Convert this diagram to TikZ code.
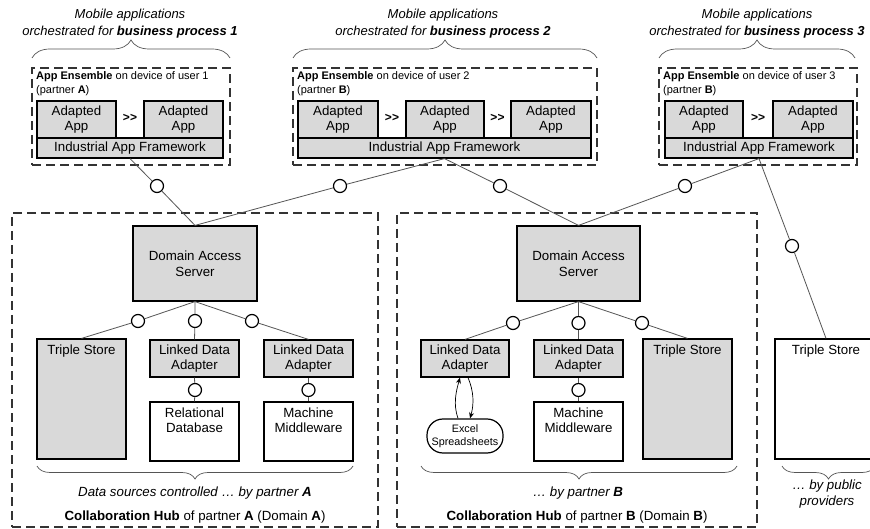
\documentclass[tikz,border=0pt]{standalone}
\usepackage{fontspec}
\setmainfont{Liberation Sans}
\usetikzlibrary{decorations.pathreplacing,arrows.meta}
\definecolor{boxgray}{HTML}{D9D9D9}
\definecolor{dashgray}{HTML}{333333}
\definecolor{linegray}{HTML}{555555}
\newcommand{\myfontL}{\fontsize{13.3}{15.5}\selectfont}
\newcommand{\myfontS}{\fontsize{11}{14}\selectfont}
\newcommand{\mkbox}[7]{\node[#1, minimum width={(#5)-(#3)}, minimum height={(#6)-(#4)}] (#2) at ({((#3)+(#5))/2},{((#4)+(#6))/2}) {#7};}
\begin{document}
\begin{tikzpicture}[x=1pt,y=-1pt,
  gbox/.style={draw=black, line width=1.2pt, fill=boxgray, inner sep=0pt, align=center, font=\myfontL},
  wbox/.style={gbox, fill=white},
  dbox/.style={draw=dashgray, line width=1.7pt, dash pattern=on 9pt off 5pt, inner sep=0pt},
  ball/.style={circle, draw=black, fill=white, line width=1.2pt, minimum size=13pt, inner sep=0pt},
  conn/.style={draw=linegray, line width=0.8pt},
  brc/.style={draw=linegray, line width=0.7pt, decorate, decoration={brace, amplitude=#1}},
  txt/.style={inner sep=0pt, align=center, font=\myfontL},
  ens/.style={anchor=north west, inner sep=0pt, align=left, font=\myfontS},
  gt/.style={inner sep=0pt, font=\bfseries\fontsize{12}{14}\selectfont},
  arr/.style={draw=black, line width=0.7pt, -{Stealth[length=6pt,width=5pt]}},
]
\useasboundingbox (0,0) rectangle (870,529);
\fill[white] (0,0) rectangle (870,529);

% ---------- titles and top braces ----------
\node[txt, font=\itshape\fontsize{13}{16.5}\selectfont] (t1) at (130,23.5) {Mobile applications\\orchestrated for \textbf{business process 1}};
\node[txt, font=\itshape\fontsize{13}{16.5}\selectfont] (t2) at (443,23.5) {Mobile applications\\orchestrated for \textbf{business process 2}};
\node[txt, font=\itshape\fontsize{13}{16.5}\selectfont] (t3) at (757,23.5) {Mobile applications\\orchestrated for \textbf{business process 3}};
\draw[brc=18pt] (32,58) -- (230,58);
\draw[brc=18pt] (293,58) -- (597,58);
\draw[brc=18pt] (659,58) -- (855,58);

% ---------- app ensembles ----------
\mkbox{dbox}{e1}{32}{68}{230}{165}{}
\mkbox{dbox}{e2}{293}{68}{597}{165}{}
\mkbox{dbox}{e3}{659}{68}{857}{165}{}
\node[ens] (l1) at (36,71) {\textbf{App Ensemble} on device of user 1\\(partner \textbf{A})};
\node[ens] (l2) at (297,71) {\textbf{App Ensemble} on device of user 2\\(partner \textbf{B})};
\node[ens] (l3) at (663,71) {\textbf{App Ensemble} on device of user 3\\(partner \textbf{B})};

\mkbox{gbox}{a1a}{37}{101}{116}{138}{Adapted\\App}
\mkbox{gbox}{a1b}{144}{101}{223}{138}{Adapted\\App}
\mkbox{gbox}{f1}{37}{138}{223}{158}{Industrial App Framework}
\node[gt] (g1) at (130,118) {>{}>};

\mkbox{gbox}{a2a}{298}{101}{378}{138}{Adapted\\App}
\mkbox{gbox}{a2b}{406}{101}{484}{138}{Adapted\\App}
\mkbox{gbox}{a2c}{511}{101}{591}{138}{Adapted\\App}
\mkbox{gbox}{f2}{298}{138}{591}{158}{Industrial App Framework}
\node[gt] (g2) at (392,118) {>{}>};
\node[gt] (g3) at (497.5,118) {>{}>};

\mkbox{gbox}{a3a}{665}{101}{743}{138}{Adapted\\App}
\mkbox{gbox}{a3b}{773}{101}{853}{138}{Adapted\\App}
\mkbox{gbox}{f3}{665}{138}{853}{158}{Industrial App Framework}
\node[gt] (g4) at (758,118) {>{}>};

% ---------- collaboration hubs ----------
\mkbox{dbox}{hA}{12}{213}{378}{527}{}
\mkbox{dbox}{hB}{397}{213}{757}{527}{}

\mkbox{gbox}{dasA}{133}{226}{257}{301}{Domain Access\\Server}
\mkbox{gbox}{dasB}{517}{226}{640}{301}{Domain Access\\Server}

% hub A
\mkbox{gbox}{tsA}{37}{339}{126}{459}{}
\node[txt, anchor=north] (tsAt) at ([yshift=-6pt]tsA.north) {Triple Store};
\mkbox{gbox}{ldaA1}{150}{340}{239}{377}{Linked Data\\Adapter}
\mkbox{gbox}{ldaA2}{264}{340}{353}{377}{Linked Data\\Adapter}
\mkbox{wbox}{rdb}{150}{402}{239}{461}{}
\node[txt, anchor=north] (rdbt) at ([yshift=-6pt]rdb.north) {Relational\\Database};
\mkbox{wbox}{mmA}{264}{402}{353}{461}{}
\node[txt, anchor=north] (mmAt) at ([yshift=-6pt]mmA.north) {Machine\\Middleware};

% hub B
\mkbox{gbox}{ldaB1}{421}{340}{509}{377}{Linked Data\\Adapter}
\mkbox{gbox}{ldaB2}{534}{340}{623}{377}{Linked Data\\Adapter}
\mkbox{gbox}{tsB}{643}{339}{732}{459}{}
\node[txt, anchor=north] (tsBt) at ([yshift=-6pt]tsB.north) {Triple Store};
\mkbox{wbox}{mmB}{534}{402}{623}{461}{}
\node[txt, anchor=north] (mmBt) at ([yshift=-6pt]mmB.north) {Machine\\Middleware};
\node[draw=black, line width=1.2pt, fill=white, rounded corners=16pt, minimum width=76pt, minimum height=34pt, inner sep=0pt, align=center, font=\fontsize{10.8}{13}\selectfont] (xl) at (465,436) {Excel\\Spreadsheets};

% public triple store
\mkbox{wbox}{tsP}{775}{339}{877}{459}{}
\node[txt, anchor=north] (tsPt) at ([yshift=-6pt]tsP.north) {Triple Store};

% ---------- interface circles ----------
\node[ball] (c1) at (157,186) {};
\node[ball] (c2) at (340,186) {};
\node[ball] (c3) at (500,186) {};
\node[ball] (c4) at (685,186) {};
\node[ball] (c5) at (792,246) {};
\node[ball] (cA1) at (138,321) {};
\node[ball] (cA2) at (195,321) {};
\node[ball] (cA3) at (252,321) {};
\node[ball] (cA4) at (195,390) {};
\node[ball] (cA5) at (308.5,390) {};
\node[ball] (cB1) at (513,323) {};
\node[ball] (cB2) at (578.5,323) {};
\node[ball] (cB3) at (642,323) {};
\node[ball] (cB4) at (578.5,390) {};

% ---------- connectors ----------
\draw[conn] (f1.south) -- (c1) -- (dasA.north);
\draw[conn] (f2.south) -- (c2) -- (dasA.north);
\draw[conn] (f2.south) -- (c3) -- (dasB.north);
\draw[conn] (f3.south) -- (c4) -- (dasB.north);
\draw[conn] (f3.south) -- (c5) -- (tsP.north);

\draw[conn] (dasA.south) -- (cA1) -- (tsA.north);
\draw[conn] (dasA.south) -- (cA2) -- (ldaA1.north);
\draw[conn] (dasA.south) -- (cA3) -- (ldaA2.north);
\draw[conn] (ldaA1.south) -- (cA4) -- (rdb.north);
\draw[conn] (ldaA2.south) -- (cA5) -- (mmA.north);

\draw[conn] (dasB.south) -- (cB1) -- (ldaB1.north);
\draw[conn] (dasB.south) -- (cB2) -- (ldaB2.north);
\draw[conn] (dasB.south) -- (cB3) -- (tsB.north);
\draw[conn] (ldaB2.south) -- (cB4) -- (mmB.north);

\draw[arr] ([xshift=-7pt]xl.north) .. controls +(-5,-14) and +(-4,14) .. ([xshift=-5pt]ldaB1.south);
\draw[arr] ([xshift=3pt]ldaB1.south) .. controls +(6,14) and +(4,-14) .. ([xshift=5pt]xl.north);

% ---------- bottom braces and texts ----------
\draw[brc=13pt] (353,466) -- (37,466);
\draw[brc=13pt] (737,466) -- (421,466);
\draw[brc=13pt] (875,466) -- (782,466);

\node[txt, font=\itshape\myfontL] (dA) at (195,493) {Data sources controlled … by partner \textbf{A}};
\node[txt, font=\itshape\myfontL] (dB) at (578,493) {… by partner \textbf{B}};
\node[txt, font=\itshape\fontsize{13.3}{16}\selectfont] (dP) at (827,494) {… by public\\providers};
\node[txt] (hAt) at (195,517) {\textbf{Collaboration Hub} of partner \textbf{A} (Domain \textbf{A})};
\node[txt] (hBt) at (577,517) {\textbf{Collaboration Hub} of partner \textbf{B} (Domain \textbf{B})};
\end{tikzpicture}
\end{document}
